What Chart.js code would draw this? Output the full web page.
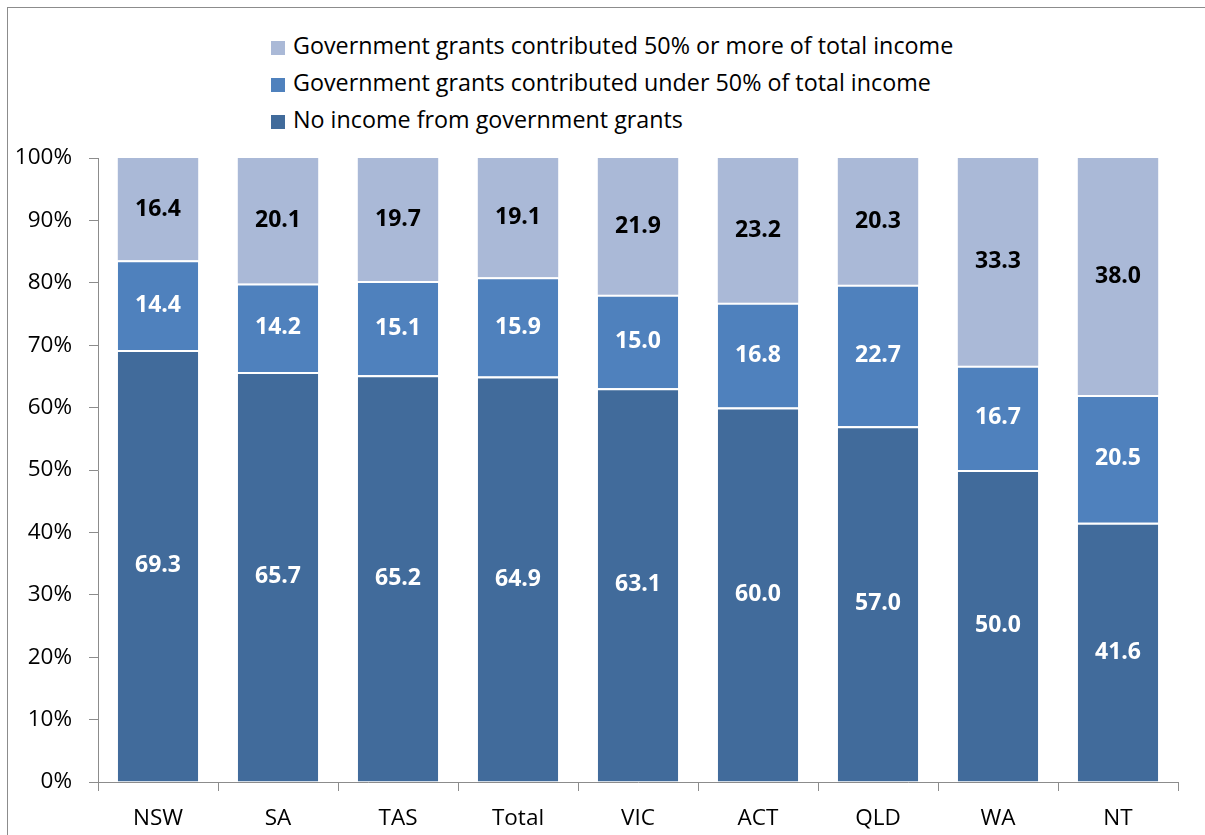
<!DOCTYPE html>
<html>
<head>
<meta charset="utf-8">
<script src="https://cdn.jsdelivr.net/npm/chart.js@4"></script>
<style>
  html, body { margin: 0; padding: 0; background: #fff; }
  #wrap { position: relative; width: 1205px; height: 835px; overflow: hidden; }
  #frame { position: absolute; left: 7px; top: 7px; width: 1300px; height: 900px;
           border-left: 1px solid #8c8c8c; border-top: 1px solid #8c8c8c; }
  #legend { position: absolute; left: 271px; top: 27px; font-family: "Open Sans", sans-serif;
            font-size: 23.3px; color: #000; }
  #legend div { height: 37px; line-height: 37px; white-space: nowrap; }
  #legend span { display: inline-block; width: 14px; height: 14px; margin-right: 8px;
                 vertical-align: -1px; }
  canvas { position: absolute; left: 0; top: 0; }
</style>
</head>
<body>
<div id="wrap">
  <div id="frame"></div>
  <div id="legend"></div>
  <canvas id="chart" width="1205" height="835"></canvas>
</div>
<script>
// Share of organisations by government grant income, by state (%)
const regions = ['NSW', 'SA', 'TAS', 'Total', 'VIC', 'ACT', 'QLD', 'WA', 'NT'];
const noGrants = [69.3, 65.7, 65.2, 64.9, 63.1, 60.0, 57.0, 50.0, 41.6];
const under50 = [14.4, 14.2, 15.1, 15.9, 15.0, 16.8, 22.7, 16.7, 20.5];
const over50 = [16.4, 20.1, 19.7, 19.1, 21.9, 23.2, 20.3, 33.3, 38.0];
const yTicks = [0, 10, 20, 30, 40, 50, 60, 70, 80, 90, 100];

const font = 'Open Sans';

const series = [
  { label: 'No income from government grants', values: noGrants,
    color: '#416b9b', labelColor: '#ffffff' },
  { label: 'Government grants contributed under 50% of total income', values: under50,
    color: '#4f81bd', labelColor: '#ffffff' },
  { label: 'Government grants contributed 50% or more of total income', values: over50,
    color: '#aab9d7', labelColor: '#000000' }
];

// 100% stacked: scale each column so it sums to exactly 100
const totals = regions.map((r, j) => series.reduce((s, d) => s + d.values[j], 0));

// legend, top entry is the last series
const legend = document.getElementById('legend');
series.slice().reverse().forEach(function(ds) {
  const row = document.createElement('div');
  const box = document.createElement('span');
  box.style.background = ds.color;
  row.appendChild(box);
  row.appendChild(document.createTextNode(ds.label));
  legend.appendChild(row);
});

// value labels in the middle of each segment
const valueLabels = {
  id: 'valueLabels',
  afterDatasetsDraw(chart) {
    const ctx = chart.ctx;
    ctx.save();
    ctx.font = 'bold 23px "' + font + '"';
    ctx.textAlign = 'center';
    ctx.textBaseline = 'middle';
    chart.data.datasets.forEach(function(ds, i) {
      chart.getDatasetMeta(i).data.forEach(function(bar, j) {
        ctx.fillStyle = ds.labelColor;
        ctx.fillText(ds.raw[j].toFixed(1), bar.x, (bar.y + bar.base) / 2);
      });
    });
    ctx.restore();
  }
};

new Chart(document.getElementById('chart'), {
  type: 'bar',
  data: {
    labels: regions,
    datasets: series.map(function(ds, i) {
      return {
        label: ds.label,
        raw: ds.values,
        labelColor: ds.labelColor,
        data: ds.values.map((v, j) => v / totals[j] * 100),
        backgroundColor: ds.color,
        borderColor: '#ffffff',
        borderWidth: { top: i < series.length - 1 ? 2 : 0, bottom: 0, left: 0, right: 0 },
        borderSkipped: false,
        barPercentage: 0.67,
        categoryPercentage: 1.0
      };
    })
  },
  options: {
    responsive: false,
    animation: false,
    layout: { padding: { top: 158, right: 27, bottom: 0, left: 0 } },
    plugins: { legend: { display: false }, tooltip: { enabled: false } },
    scales: {
      x: {
        stacked: true,
        offset: true,
        grid: { offset: true, drawOnChartArea: false, tickLength: 9, color: '#8c8c8c' },
        border: { color: '#8c8c8c' },
        ticks: { color: '#000', font: { family: font, size: 22.5 }, padding: 14 },
        afterFit(scale) { scale.height = 53; }
      },
      y: {
        stacked: true,
        min: 0,
        max: 100,
        afterBuildTicks(scale) { scale.ticks = yTicks.map(v => ({ value: v })); },
        grid: { drawOnChartArea: false, tickLength: 9, color: '#8c8c8c' },
        border: { color: '#8c8c8c' },
        ticks: { color: '#000', font: { family: font, size: 22.5 }, padding: 17,
                 callback: v => v + '%' },
        afterFit(scale) { scale.width = 98; }
      }
    }
  },
  plugins: [valueLabels]
});
</script>
</body>
</html>
